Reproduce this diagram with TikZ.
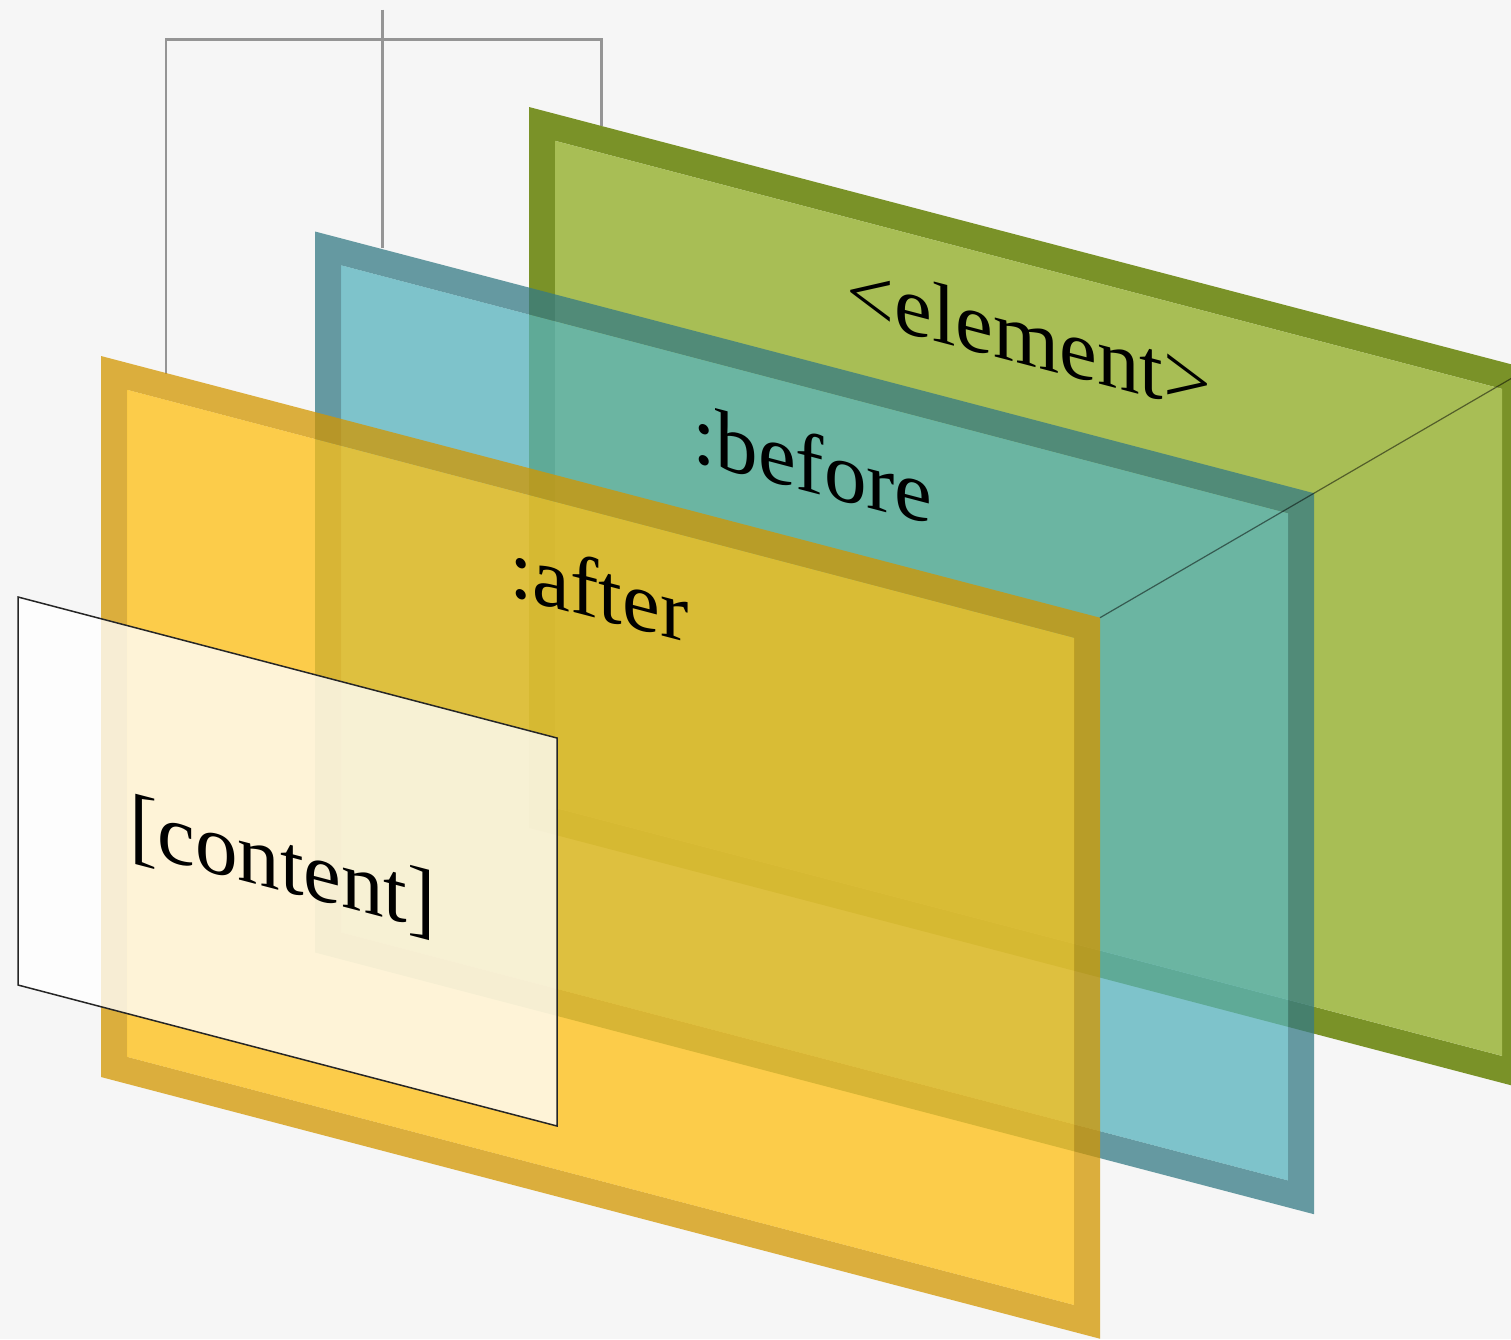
\documentclass[tikz,border=0pt]{standalone}
\usepackage{fontspec}
\setmainfont{Liberation Serif}
\definecolor{bg}{HTML}{F6F6F6}
\definecolor{grnfill}{HTML}{A8BE55}
\definecolor{grnedge}{HTML}{7A9228}
\definecolor{blufill}{HTML}{57B3BD}
\definecolor{bluedge}{HTML}{357B85}
\definecolor{yelfill}{HTML}{FFBF11}
\definecolor{yeledge}{HTML}{D39600}
\definecolor{guide}{HTML}{959595}
% name, x0, y0, fill colour, edge colour, opacity
\newcommand{\layerpanel}[6]{%
  \coordinate (#1-tl) at (#2,#3);
  \coordinate (#1-tr) at ({#2+999},{#3+261.7});
  \coordinate (#1-br) at ({#2+999},{#3+982.7});
  \coordinate (#1-bl) at (#2,{#3+721});
  \coordinate (#1-itl) at ({#2+26},{#3+33.8});
  \coordinate (#1-itr) at ({#2+973},{#3+281.9});
  \coordinate (#1-ibr) at ({#2+973},{#3+948.9});
  \coordinate (#1-ibl) at ({#2+26},{#3+700.8});
  \fill[#5, opacity=#6, even odd rule] (#1-tl) -- (#1-tr) -- (#1-br) -- (#1-bl) -- cycle
       (#1-itl) -- (#1-itr) -- (#1-ibr) -- (#1-ibl) -- cycle;
  \fill[#4, opacity=#6] (#1-itl) -- (#1-itr) -- (#1-ibr) -- (#1-ibl) -- cycle;
}
% name, x, y (baseline start), text
\newcommand{\slantlabel}[4]{%
  \begin{scope}[shift={(#2,#3)}, yslant=-0.262]
    \node[lbl, transform shape] (#1) at (0,0) {#4};
  \end{scope}}
\tikzset{
  lbl/.style={anchor=base west, inner sep=0pt, outer sep=0pt, text=black,
              font=\fontsize{85}{100}\selectfont},
  guideline/.style={draw=guide, line width=2.2pt},
  cornerline/.style={draw=black, opacity=0.5, line width=1.2pt},
}
\begin{document}
\begin{tikzpicture}[x=1pt, y=-1pt]
  \useasboundingbox (0,0) rectangle (1511,1339);
  \fill[bg] (0,0) rectangle (1511,1339);
  \clip (0,0) rectangle (1511,1339);

  % guide lines
  \coordinate (g1) at (166,374);
  \coordinate (g2) at (166,39.5);
  \coordinate (g3) at (601.5,39.5);
  \coordinate (g4) at (601.5,126);
  \coordinate (m1) at (382.5,9.5);
  \coordinate (m2) at (382.5,248);
  \draw[guideline] (g1) -- (g2) -- (g3) -- (g4);
  \draw[guideline] (m1) -- (m2);

  % panels
  \layerpanel{grn}{529}{107}{grnfill}{grnedge}{1}
  \slantlabel{lblel}{846.5}{318}{<element>}
  \layerpanel{blu}{315}{231.5}{blufill}{bluedge}{0.75}
  \slantlabel{lblbe}{692}{461.6}{:before}
  \layerpanel{yel}{101}{356}{yelfill}{yeledge}{0.75}
  \slantlabel{lblaf}{509}{595.8}{:after}

  % content panel
  \coordinate (c-tl) at (18,597);
  \coordinate (c-tr) at (557,738);
  \coordinate (c-br) at (557,1126);
  \coordinate (c-bl) at (18,985);
  \fill[white, opacity=0.78] (c-tl) -- (c-tr) -- (c-br) -- (c-bl) -- cycle;
  \draw[black!85, line width=1.5pt, line join=miter] (c-tl) -- (c-tr) -- (c-br) -- (c-bl) -- cycle;
  \slantlabel{lblco}{129}{851}{[content]}

  % corner line
  \draw[cornerline] (yel-tr) -- (blu-tr) -- (grn-tr);
\end{tikzpicture}
\end{document}
